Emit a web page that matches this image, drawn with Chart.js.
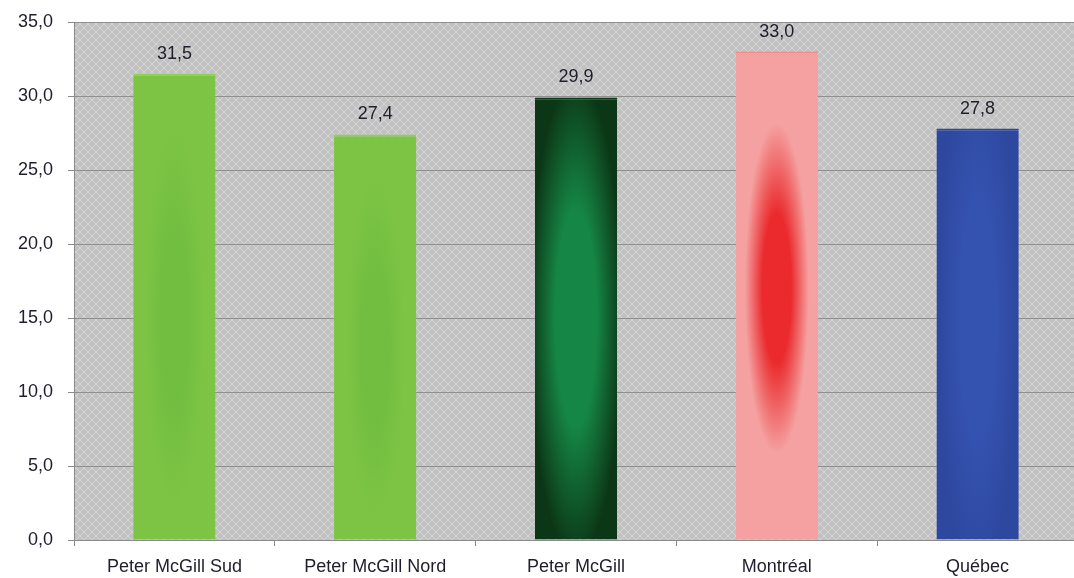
<!DOCTYPE html>
<html>
<head>
<meta charset="utf-8">
<script src="https://cdn.jsdelivr.net/npm/chart.js@4/dist/chart.umd.min.js"></script>
<style>
  html, body { margin: 0; padding: 0; background: #fff; overflow: hidden; }
  #wrap { position: relative; width: 1078px; height: 578px; }
</style>
</head>
<body>
<div id="wrap"><canvas id="chart"></canvas></div>
<script>
"use strict";

const categories = ["Peter McGill Sud", "Peter McGill Nord", "Peter McGill", "Montréal", "Québec"];
const values = [31.5, 27.4, 29.9, 33.0, 27.8];
const yTicks = [0, 5, 10, 15, 20, 25, 30, 35];

// fill look of each bar: outer colour, glow colour, glow centre (in axis units), glow radii
const barLooks = [
    { outer: "#7dc444", inner: "#72be40", cy: 15, rx: 30, ry: 190 },
    { outer: "#7dc444", inner: "#72be40", cy: 13, rx: 30, ry: 170 },
    { outer: "#0c3716", inner: "#158645", cy: 15, rx: 46, ry: 240 },
    { outer: "#f5a1a1", inner: "#ea2a2c", cy: 17, rx: 32, ry: 165 },
    { outer: "#2e489f", inner: "#3452b0", cy: 15, rx: 40, ry: 260 }
];
const barBorders = ["#8fd05a", "#8fd05a", "#0c3716", "#f08c8c", "#2e489f"];
const fontFamily = "'Liberation Sans', Arial, sans-serif";
const textColor = "#1e1e2c";

const fmt = v => v.toFixed(1).replace(".", ",");

function makeBackdrop() {
    const c = document.createElement("canvas");
    c.width = 8;
    c.height = 8;
    const g = c.getContext("2d");
    g.fillStyle = "#c1c1c1";
    g.fillRect(0, 0, 8, 8);
    g.fillStyle = "#d5d5d5";
    for (let i = 0; i < 4; i++) {
        g.fillRect(i, i, 1, 1);
        g.fillRect(7 - i, i, 1, 1);
        g.fillRect(i + 4, i + 4, 1, 1);
        g.fillRect(3 - i, i + 4, 1, 1);
    }
    return c;
}

function glowFill(ctx) {
    const chart = ctx.chart;
    const look = barLooks[ctx.dataIndex];
    if (!chart.chartArea || !chart.scales.x) return look.outer;
    const x = chart.scales.x.getPixelForValue(ctx.dataIndex);
    const y = chart.scales.y.getPixelForValue(look.cy);
    const c = document.createElement("canvas");
    c.width = chart.width;
    c.height = chart.height;
    const g = c.getContext("2d");
    g.fillStyle = look.outer;
    g.fillRect(0, 0, c.width, c.height);
    g.save();
    g.translate(x, y);
    g.scale(look.rx / look.ry, 1);
    const grad = g.createRadialGradient(0, 0, 0, 0, 0, look.ry);
    grad.addColorStop(0, look.inner);
    grad.addColorStop(0.45, look.inner);
    grad.addColorStop(1, look.outer);
    g.fillStyle = grad;
    g.fillRect(-look.ry * 4, -c.height, look.ry * 8, c.height * 2);
    g.restore();
    return chart.ctx.createPattern(c, "no-repeat");
}

const backdropPlugin = {
    id: "backdrop",
    beforeDraw(chart) {
        const { ctx, chartArea: a } = chart;
        ctx.save();
        ctx.fillStyle = ctx.createPattern(makeBackdrop(), "repeat");
        ctx.fillRect(a.left, a.top, a.right - a.left, a.bottom - a.top);
        ctx.restore();
    }
};

const valueLabels = {
    id: "valueLabels",
    afterDatasetsDraw(chart) {
        const ctx = chart.ctx;
        const meta = chart.getDatasetMeta(0);
        ctx.save();
        ctx.font = "18px " + fontFamily;
        ctx.fillStyle = textColor;
        ctx.textAlign = "center";
        ctx.textBaseline = "middle";
        meta.data.forEach((bar, i) => {
            ctx.fillText(fmt(values[i]), bar.x, bar.y - 20);
        });
        ctx.restore();
    }
};

const ctx = document.querySelector("#chart").getContext("2d");
const configuration = {
    type: "bar",
    data: {
        labels: categories,
        datasets: [{
            data: values,
            backgroundColor: glowFill,
            borderColor: barBorders,
            borderWidth: { top: 2, left: 0, right: 0, bottom: 0 },
            borderSkipped: "bottom",
            barPercentage: 0.41,
            categoryPercentage: 1
        }]
    },
    options: {
        responsive: true,
        maintainAspectRatio: false,
        animation: false,
        devicePixelRatio: 1,
        layout: {
            padding: { top: 22, right: 0, bottom: 0, left: 0 }
        },
        plugins: {
            legend: { display: false },
            tooltip: { enabled: false }
        },
        scales: {
            x: {
                offset: true,
                afterFit: scale => {
                    scale.height = 38;
                },
                grid: {
                    display: true,
                    drawOnChartArea: false,
                    offset: true,
                    tickLength: 6,
                    color: "#8a8a8a"
                },
                border: { color: "#8a8a8a" },
                ticks: {
                    color: textColor,
                    padding: 10,
                    font: { family: fontFamily, size: 18 }
                }
            },
            y: {
                min: 0,
                max: 35,
                afterBuildTicks: scale => {
                    scale.ticks = yTicks.map(v => ({ value: v }));
                },
                afterFit: scale => {
                    scale.width = 74;
                    scale.paddingTop = 0;
                    scale.paddingBottom = 0;
                },
                grid: {
                    color: "#8f8f8f",
                    tickLength: 6,
                    tickColor: "#8a8a8a"
                },
                border: { color: "#8a8a8a" },
                ticks: {
                    color: textColor,
                    padding: 15,
                    callback: v => fmt(v),
                    font: { family: fontFamily, size: 18 }
                }
            }
        }
    },
    plugins: [backdropPlugin, valueLabels]
};
new Chart(ctx, configuration); //NOSONAR
</script>
</body>
</html>
